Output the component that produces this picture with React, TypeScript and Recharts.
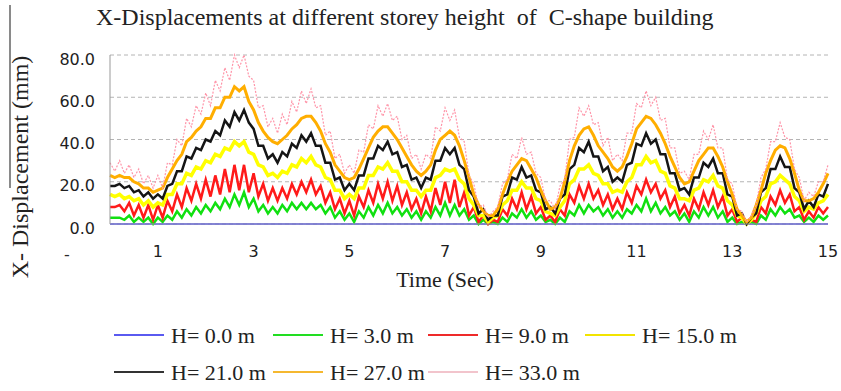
import { CartesianGrid, Line, LineChart, XAxis, YAxis } from 'recharts'

// sampled every 0.1 s from 0 to 15 s
const STEP = 0.1
const xTicks = [1, 3, 5, 7, 9, 11, 13, 15]
const yTicks = [0, 20, 40, 60, 80]

const h0 = [
  0, 0, 0, 0, 0, 0, 0, 0, 0, 0, 0, 0, 0, 0, 0, 0, 0, 0, 0, 0,
  0, 0, 0, 0, 0, 0, 0, 0, 0, 0, 0, 0, 0, 0, 0, 0, 0, 0, 0, 0,
  0, 0, 0, 0, 0, 0, 0, 0, 0, 0, 0, 0, 0, 0, 0, 0, 0, 0, 0, 0,
  0, 0, 0, 0, 0, 0, 0, 0, 0, 0, 0, 0, 0, 0, 0, 0, 0, 0, 0, 0,
  0, 0, 0, 0, 0, 0, 0, 0, 0, 0, 0, 0, 0, 0, 0, 0, 0, 0, 0, 0,
  0, 0, 0, 0, 0, 0, 0, 0, 0, 0, 0, 0, 0, 0, 0, 0, 0, 0, 0, 0,
  0, 0, 0, 0, 0, 0, 0, 0, 0, 0, 0, 0, 0, 0, 0, 0, 0, 0, 0, 0,
  0, 0, 0, 0, 0, 0, 0, 0, 0, 0, 0,
]
const h3 = [
  3, 3, 3, 2, 4, 1, 3, 1, 3, 0,
  3, 1, 4, 2, 6, 3, 7, 4, 8, 5,
  9, 6, 10, 7, 12, 8, 14, 9, 15, 8,
  12, 6, 9, 5, 8, 5, 9, 6, 10, 7,
  10, 7, 10, 7, 9, 5, 8, 3, 6, 2,
  5, 1, 6, 3, 8, 4, 9, 5, 10, 5,
  8, 4, 7, 3, 6, 2, 6, 3, 8, 4,
  10, 4, 9, 4, 7, 2, 4, 0, 2, 0,
  1, 0, 3, 1, 5, 3, 7, 3, 6, 2,
  4, 1, 2, 0, 3, 1, 6, 4, 9, 5,
  9, 6, 8, 4, 7, 3, 6, 3, 7, 5,
  9, 6, 12, 6, 10, 5, 8, 4, 6, 2,
  5, 1, 6, 3, 8, 4, 8, 3, 6, 1,
  3, 0, 1, 0, 1, 0, 4, 2, 7, 4,
  8, 5, 7, 3, 4, 1, 3, 1, 4, 2,
  4,
]
const h9 = [
  8, 8, 9, 6, 10, 4, 9, 3, 9, 2,
  9, 3, 11, 6, 14, 8, 17, 11, 19, 12,
  21, 13, 23, 14, 26, 15, 28, 16, 28, 15,
  24, 13, 19, 11, 17, 11, 17, 12, 19, 14,
  20, 15, 21, 14, 18, 10, 15, 7, 12, 5,
  11, 4, 13, 8, 16, 10, 19, 12, 20, 11,
  18, 9, 15, 7, 12, 5, 13, 6, 17, 9,
  20, 10, 21, 8, 15, 4, 8, 1, 4, 0,
  2, 1, 7, 4, 12, 7, 15, 7, 13, 5,
  8, 2, 4, 1, 7, 4, 14, 10, 18, 12,
  19, 12, 16, 9, 14, 7, 12, 7, 15, 10,
  18, 14, 21, 15, 19, 12, 16, 8, 13, 5,
  9, 4, 12, 7, 15, 9, 16, 8, 13, 4,
  7, 1, 3, 0, 2, 1, 8, 5, 13, 9,
  16, 10, 14, 6, 8, 2, 6, 3, 8, 5,
  8,
]
const h15 = [
  14, 13, 14, 12, 13, 11, 12, 9, 11, 8,
  10, 9, 14, 14, 19, 19, 24, 23, 27, 26,
  30, 29, 33, 32, 36, 35, 39, 37, 39, 34,
  33, 28, 27, 23, 24, 22, 25, 24, 28, 27,
  31, 29, 32, 28, 27, 22, 21, 16, 16, 12,
  14, 12, 17, 17, 23, 23, 27, 26, 29, 25,
  25, 20, 20, 16, 16, 13, 16, 16, 22, 23,
  26, 25, 26, 21, 19, 12, 9, 4, 4, 1,
  3, 4, 9, 11, 16, 16, 20, 17, 17, 12,
  11, 6, 5, 4, 8, 11, 19, 21, 26, 26,
  28, 24, 23, 19, 19, 15, 16, 15, 20, 22,
  28, 28, 32, 29, 30, 25, 24, 18, 17, 12,
  12, 11, 16, 17, 21, 20, 23, 18, 17, 11,
  9, 4, 3, 0, 2, 5, 11, 13, 19, 20,
  23, 21, 19, 13, 11, 6, 8, 7, 10, 11,
  14,
]
const h21 = [
  18, 18, 19, 17, 18, 15, 16, 13, 15, 12,
  14, 12, 18, 19, 25, 25, 32, 31, 36, 35,
  40, 39, 44, 42, 49, 46, 53, 49, 54, 48,
  45, 37, 37, 31, 33, 29, 34, 32, 38, 36,
  42, 39, 43, 37, 37, 29, 29, 21, 22, 16,
  19, 16, 23, 23, 31, 31, 37, 35, 39, 33,
  34, 27, 28, 21, 22, 17, 22, 21, 30, 30,
  36, 33, 36, 28, 26, 16, 13, 5, 7, 2,
  4, 4, 13, 14, 22, 21, 27, 22, 23, 16,
  15, 7, 8, 5, 12, 14, 26, 28, 36, 34,
  39, 32, 32, 25, 27, 20, 22, 20, 28, 29,
  38, 37, 43, 38, 40, 33, 33, 24, 24, 16,
  17, 14, 22, 22, 29, 27, 31, 24, 24, 14,
  13, 4, 5, 0, 3, 5, 15, 17, 26, 26,
  32, 27, 27, 17, 15, 7, 11, 8, 14, 13,
  19,
]
const h27 = [
  23, 22, 23, 22, 22, 20, 19, 17, 17, 15,
  16, 17, 22, 26, 30, 33, 39, 41, 44, 46,
  50, 50, 55, 55, 60, 60, 65, 63, 65, 58,
  54, 48, 44, 41, 39, 38, 40, 42, 45, 47,
  50, 51, 51, 48, 44, 38, 34, 28, 25, 22,
  21, 22, 26, 31, 36, 41, 44, 46, 46, 43,
  40, 36, 32, 28, 25, 23, 25, 28, 35, 40,
  42, 44, 42, 37, 30, 22, 14, 9, 6, 4,
  4, 7, 14, 20, 25, 28, 31, 30, 26, 22,
  16, 11, 7, 8, 12, 20, 30, 37, 42, 45,
  46, 42, 37, 34, 31, 27, 25, 27, 32, 38,
  45, 48, 51, 50, 47, 43, 38, 32, 27, 22,
  19, 20, 25, 30, 33, 36, 36, 32, 27, 20,
  14, 7, 4, 1, 3, 9, 16, 24, 30, 35,
  37, 36, 31, 24, 16, 11, 11, 12, 15, 19,
  24,
]
const h33 = [
  29, 25, 30, 24, 28, 22, 26, 19, 23, 17,
  23, 17, 29, 28, 40, 37, 50, 46, 56, 52,
  62, 56, 68, 63, 74, 68, 80, 74, 80, 70,
  68, 55, 56, 46, 50, 43, 52, 47, 58, 53,
  63, 57, 64, 55, 56, 42, 44, 31, 33, 24,
  28, 24, 35, 34, 47, 45, 56, 51, 57, 49,
  51, 40, 42, 31, 33, 26, 33, 31, 46, 44,
  55, 49, 54, 41, 39, 23, 19, 8, 9, 3,
  6, 8, 19, 21, 33, 31, 41, 33, 34, 24,
  22, 11, 11, 7, 18, 21, 40, 41, 55, 51,
  56, 47, 48, 37, 41, 30, 33, 30, 43, 43,
  57, 55, 63, 56, 60, 49, 50, 36, 36, 24,
  25, 21, 33, 33, 44, 40, 47, 36, 36, 21,
  19, 7, 6, 1, 4, 9, 22, 26, 39, 39,
  48, 41, 40, 26, 22, 11, 15, 13, 20, 20,
  28,
]

const series = [
  { key: 'h0', name: 'H= 0.0 m', values: h0, color: '#4040ff', legend: '#5a5af0', width: 1.5, dash: undefined },
  { key: 'h3', name: 'H= 3.0 m', values: h3, color: '#10e010', legend: '#22dd22', width: 2.5, dash: undefined },
  { key: 'h9', name: 'H= 9.0 m', values: h9, color: '#ff1a1a', legend: '#ee2a2a', width: 2.5, dash: undefined },
  { key: 'h15', name: 'H= 15.0 m', values: h15, color: '#ffff00', legend: '#f2e400', width: 3.5, dash: undefined },
  { key: 'h21', name: 'H= 21.0 m', values: h21, color: '#151515', legend: '#333333', width: 2.5, dash: undefined },
  { key: 'h27', name: 'H= 27.0 m', values: h27, color: '#ffae00', legend: '#f5b830', width: 3, dash: undefined },
  { key: 'h33', name: 'H= 33.0 m', values: h33, color: '#ff94a8', legend: '#f2c4cc', width: 1.2, dash: '2 1.5' },
]

const data = h0.map((_, i) => {
  const row: Record<string, number> = { t: Math.round(i * STEP * 10) / 10 }
  series.forEach((s) => {
    row[s.key] = s.values[i]
  })
  return row
})

const legendRows = [
  ['h0', 'h3', 'h9', 'h15'],
  ['h21', 'h27', 'h33'],
]
const legendCols = [114, 273, 428, 585]
const legendRowY = [335, 372]

const serif = "'Liberation Serif', 'Times New Roman', serif"
const sans = "'DejaVu Sans', Verdana, sans-serif"

function YTick({ x, y, payload }: any) {
  return (
    <text x={x} y={y + 4} dy="0.355em" textAnchor="end" fontFamily={sans} fontSize={16} fill="#1e1e1e">
      {Number(payload.value).toFixed(1)}
    </text>
  )
}

function XTick({ x, y, payload }: any) {
  return (
    <text x={x} y={y} dy="0.71em" textAnchor="middle" fontFamily={sans} fontSize={16} fill="#1e1e1e">
      {payload.value}
    </text>
  )
}

export default function App() {
  return (
    <div style={{ position: 'absolute', left: 0, top: 0, width: 841, height: 391, background: '#fff' }}>
      <LineChart width={841} height={391} data={data} margin={{ top: 55, right: 13, left: 0, bottom: 0 }}>
        <CartesianGrid vertical={false} stroke="#b4b4b4" strokeDasharray="4 3" />
        <XAxis
          dataKey="t"
          type="number"
          domain={[0, 15]}
          ticks={xTicks}
          height={167}
          tickLine={false}
          tickSize={0}
          tickMargin={22}
          stroke="#9a9aa8"
          tick={<XTick />}
        />
        <YAxis
          domain={[0, 80]}
          ticks={yTicks}
          width={110}
          tickLine={false}
          tickSize={0}
          tickMargin={15}
          stroke="#999"
          tick={<YTick />}
        />
        {series.map((s) => (
          <Line
            key={s.key}
            dataKey={s.key}
            name={s.name}
            type="linear"
            stroke={s.color}
            strokeWidth={s.width}
            strokeDasharray={s.dash}
            dot={false}
            isAnimationActive={false}
          />
        ))}
      </LineChart>
      <svg width={841} height={391} style={{ position: 'absolute', left: 0, top: 0, pointerEvents: 'none' }}>
        <line x1={10} y1={5} x2={10} y2={188} stroke="#8a8a8a" strokeWidth={2} />
        <text x={96} y={25} xmlSpace="preserve" style={{ whiteSpace: 'pre' }} fontFamily={serif} fontSize={24} fill="#222">
          {'X-Displacements at different storey height  of  C-shape building'}
        </text>
        <text x={28} y={167} transform="rotate(-90 28 167)" textAnchor="middle" fontFamily={serif} fontSize={24} fill="#222">
          X- Displacement (mm)
        </text>
        <text x={445} y={287} textAnchor="middle" fontFamily={serif} fontSize={22} fill="#222">
          Time (Sec)
        </text>
        <text x={67} y={260} textAnchor="middle" fontFamily={sans} fontSize={16} fill="#2a2a2a">
          -
        </text>
        {legendRows.map((row, r) =>
          row.map((key, c) => {
            const s = series.find((d) => d.key === key)!
            const x = legendCols[c]
            const y = legendRowY[r]
            return (
              <g key={key}>
                <line x1={x} y1={y} x2={x + 50} y2={y} stroke={s.legend} strokeWidth={2} />
                <text x={x + 57} y={y + 8} fontFamily={serif} fontSize={22} fill="#222">
                  {s.name}
                </text>
              </g>
            )
          }),
        )}
      </svg>
    </div>
  )
}
